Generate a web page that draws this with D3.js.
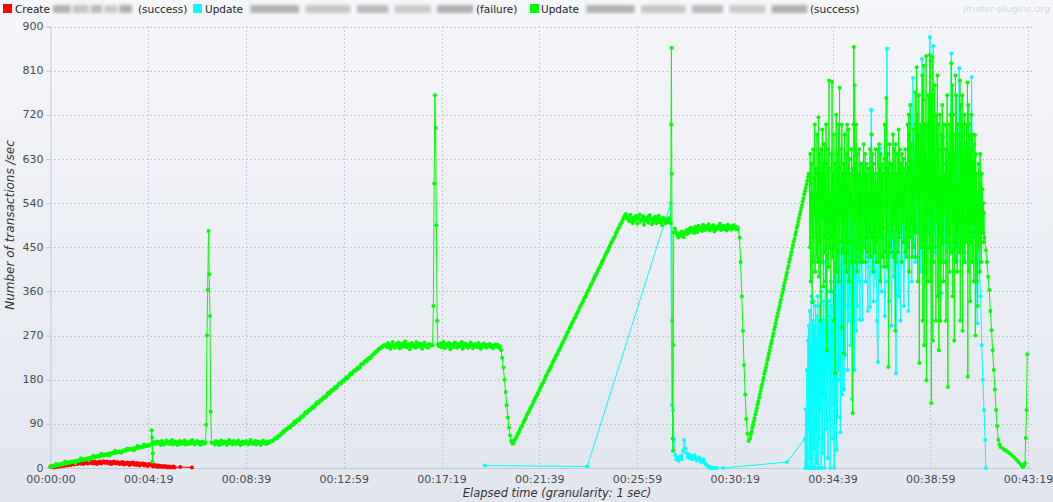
<!DOCTYPE html>
<html><head><meta charset="utf-8">
<script src="https://cdn.jsdelivr.net/npm/d3@7"></script>
<style>body{margin:0;background:#e9ecf3}svg{display:block}</style>
</head><body><svg id="c" width="1053" height="502"></svg>
<script>
// ---------- data ----------
const legendLabels = [["Create", "(success)"], ["Update", "(failure)"], ["Update", "(success)"]];
const seriesColors = ["#ff0000", "#00ffff", "#00ff00"];
const yTicks = [0, 90, 180, 270, 360, 450, 540, 630, 720, 810, 900];
const xTickTimes = [0, 259.9, 519.8, 779.7, 1039.6, 1299.5, 1559.4, 1819.3, 2079.2, 2339.1, 2599];
const xTickLabels = ["00:00:00","00:04:19","00:08:39","00:12:59","00:17:19","00:21:39","00:25:59","00:30:19","00:34:39","00:38:59","00:43:19"];

// runs: [start second, step seconds, values]
const createRuns = [
  [0, 3, [3,2,4,1,3,5,2,4,6,3,5, 7,4,6,8,5,7,9,6,8,10, 7,9,11,8,10,12,9,11,8,12, 10,13,9,11,14,10,12,9,13,11,
          8,12,10,13,9,11,14,12,10,13, 11,9,12,8,10,13,11,9,12,10, 8,11,9,12,7,10,8,11,9,6, 10,8,11,7,9,6,10,8,5,9,
          7,9,5,8,6,4,8,6,7,5, 3,6,4,5,2,5,3,4,2,3, 4,2,3,1,3,2,1,2,3,1]],
  [345, 1, [2]],
  [376, 1, [1]]
];

const failRuns = [
  [1155, 1, [5]],
  [1427, 1, [3]],
  [1649, 1, [540]],
  [1652, 3, [128,118,57,26,18,22,15,20,25,18, 35,57,40,30,22,28,20,25,18,22, 26,20,15,18,22,17,12,15,18,10, 8,5,4,2,0,1,0,0,0,0, 0]],
  [1788, 1, [0]],
  [1958, 1, [12]],
  [2006, 1, [60,0,120,10,0,200,30,0,260,80, 290,0,180,320,20,250,0,350,120,280, 0,300,150,340,40,290,200,0,330,100,
             260,10,310,180,350,0,240,300,60,280, 330,120,290,0,360,210,300,30,270,340, 150,300,0,280,420,190,330,80,300,250,
             360,20,290,200,340,100,310,0,270,380, 180,330,60,300,250,360,130,290,0,320, 420,132,380,250,37,460,300,104,350,200,
             500,350,180,400,73,300,450,240,380,150, 450,520,280,480,160,400,550,330,230,500, 600,450,380,200,520,420,300,480,350,560,
             400,250,500,330,450,140,520,380,470,300, 540,420,200,480,360,500,280,450,400,520, 330,480,420,500,380,460,302,520,440,500]],
  [2158, 3, [302,460,540,380,480,320,560,328,730, 480,340,400,560,300,216,500,652,360,520,
             470,310,380,855,500,340,560,290,520,390, 480,193,530,350,500,300,560,470,330,520,
             460,540,320,500,580,380,795,480,420,520, 560,480,620,400,834,500,450,560,380,600,
             480,878,520,420,860,500,440,560,470,520, 430,356,540,675,480,420,560,500,450,530,
             845,480,520,440,560,420,500,815,470,530, 460,540,420,500,560,440,520,480,797,500,
             470,520,430,295,480,400,350,250,180,118]],
  [2485, 2, [57, 0]]
];

const successRuns = [
  [0, 3, [2,4,3,5,4,8,5,7,6,8, 7,9,8,13,9,11,10,12,11,13, 12,14,10,15,14,16,15,20,16,18, 17,19,18,20,16,21,20,22,25,23,
          22,24,23,25,24,29,25,27,26,28, 27,29,25,30,29,31,30,35,31,33, 32,34,33,31,34,36,35,37,40,38, 37,39,38,40,36,41,40,45,41,43,
          42,44,43,48,44,46,45,47,46]],
  [268, 1, [49,77,62,13,30,52,50,53]],
  [278, 3, [51,49,54,50,53,47,55,52,48,51, 56,50,53,49,52,57,48,51,54,50, 47,53,55,49,52,50,56,48,53,51,
            49,54,50,57,52,48,51,55,50,53, 47,52,54,49,51]],
  [412, 2, [52,88,270,363,483,395,310,115,52,51]],
  [433, 3, [51,48,55,50,53,47,52,56,49,51, 54,50,47,53,57,50,52,48,55,51, 49,53,56,50,47,52,54,49,51,55,
            50,48,53,57,51,49,52,55,48,50, 54,51,47,53,56,50,52,49,54,51, 53,55]],
  [589, 3, [55,56,58,61,60,64,66,65,69,71, 75,74,78,79,81,83,82,86,89,88, 95,93,97,99,98,102,105,104,107,111,
            114,112,116,119,118,122,125,123,127,131, 134,132,136,139,138,142,145,143,147,151, 154,152,156,159,158,162,165,163,167,171,
            173,172,176,179,178,182,185,183,187,191, 193,192,196,199,198,202,205,203,207,211, 213,212,216,219,218,222,225,223,227,231,
            232,234,237,238,241,243,244,246,247,250]],
  [892, 3, [252,246,255,249,243,251,257,248,245,253, 250,256,244,249,254,247,251,258,246,250, 253,242,249,255,248,251,245,257,250,247,
            254,249,243,252,256,248,250,245,253,249, 251]],
  [1016, 2, [250,330,580,760,693,495,300,252]],
  [1033, 3, [248,254,246,251,257,244,250,253,247,255, 242,249,252,246,256,250,245,253,248,251, 257,243,250,254,247,252,245,249,256,251,
             244,248,253,250,246,255,249,243,252,247, 254,250,245,251,248,253,246,250,244,249, 252,247,251,245,248]],
  [1198, 3, [240,225,205,180,155,128,103,82,66,55,50]],
  [1230, 3, [50,56,59,63,69,73,78,83,86,92, 97,101,107,111,115,121,125,129,135,139, 144,148,153,158,163,167,172,176,181,187,
             190,196,200,205,209,215,219,223,229,232, 238,242,246,252,256,261,265,270,276,279, 285,289,294,298,304,307,313,317,321,327,
             331,336,340,346,349,355,360,363,369,374, 378,383,388,393,397,402,407,411,416,421, 425,430,435,440,444,449,454,459,463,468,
             472,478,482,487,491,497,500,505]],
  [1524, 3, [510,515,518,508,512,503,516,507,499,511, 505,514,498,509,517,502,506,513,496,508, 504,511,500,515,507,497,509,503,512,499,
             506,514,501,508,495,510,504,499,507,502, 509,500]],
  [1649, 1, [499,700,856,600,300,60,35,250,480]],
  [1660, 3, [488,481,475,470,478,473,482,476,471,479, 484,477,486,480,490,483,488,479,492,486, 481,494,487,490,483,496,489,485,493,488,
             497,484,491,487,495,482,490,486,493,489, 498,485,491,494,487,492,484,496,489,493, 486,490,495,488,492,487,490]],
  [1832, 3, [470,420,350,280,210,150,100,70,55]],
  [1860, 2, [60,68,74,82,88,95,101,109,115,122, 130,136,143,150,157,164,170,178,184,192, 198,205,212,220,226,233,240,247,254,260,
             268,274,282,288,295,302,309,316,323,329, 337,343,351,357,364,371,378,385,392,398, 406,412,420,426,433,440,447,454,461,467,
             475,481,489,495,502,509,516,523,530,536, 544,550,558,564,571,578,585,593,600]],
  [2018, 1, [600,450,640,380,580,500,620,338,560,470,650,420,590,520,700,400,610,480,560,430,
             680,420,600,500,715,390,640,460,580,300,650,480,600,420,690,510,560,370,620,470,
             660,440,600,380,700,520,240,620,480,650,410,580,790,450,610,500,560,360,640,470,
             787,430,600,520,300,680,450,620,193,560,480,720,400,640,520,590,440,700,380,610,
             775,460,580,520,650,287,700,440,600,500,620,234,560,680,420,600,480,640,400,570,
             700,440,580,520,690,380,630,460,600,520,560,420,650,480,610,112,580,700,858,500,
             780,420,620,450,700,520,400,640,560,480,600,430,650,500,560,420,620,470,590,440,
             540,620,420,580,660,450,600,500,640,420,590,470,620,440,600,500,560,430,610,480,
             560,650,430,610,520,680,470,590,640,400,620,480,570,440,600,510,650,420,580,460,
             600,500,650,420,580,660,480,610,380,640,470,590,520,620,430,600,490,560,410,630,
             700,520,610,440,754,410,600,480,640,430,206,620,540,660,450,590,500,620,440,600,
             620,470,680,560,430,650,500,600,280,660,420,590,480,640,510,600,440,690,470,580,
             650,480,620,540,600,420,640,500,580,630,460,610,520,590,440,650,490,600,430,620,
             560,700,450,620,720,400,680,520,740,470,620,500,660,430,600,540,690,450,620,480,
             640,766,430,700,560,817,480,720,380,680,520,760,214,640,500,700,450,620,560,690,
             800,300,750,450,820,250,700,400,640,540,840,179,700,480,620,380,760,520,600,450,
             842,380,830,500,132,760,500,838,260,720,420,680,540,780,450,640,300,720,500,620,
             800,350,700,520,240,650,480,720,300,600,500,680,420,740,460,620,380,700,520,600,
             580,420,650,300,700,460,760,520,165,640,480,700,400,620,540,720,440,825,500,640,
             780,350,720,500,680,260,640,460,800,420,760,480,620,400,700,520,580,440,680,500,
             790,300,740,450,680,520,760,280,700,440,620,500,720,420,660,540,600,460,700,480,
             786,186,740,400,700,520,680,340,650,460,720,500,600,420,680,480,620,380,660,500,
             679,270,640,420,600,380,560,330,540,450,620,480,580,400,640,460,560,420,600,480,
             568,480,540,460,520,470]],
  [2487, 3, [444,420,390,363,320,281,240,200,160,118,85,57,48]],
  [2526, 6, [43,40,36,33,30,26,22,17,12,7]],
  [2583, 2, [4,2,3,6,10,61,118,232]]
];

// ---------- helpers ----------
function expand(runs) {
  const out = [];
  runs.forEach(([t0, step, vals]) => vals.forEach((v, i) => out.push([t0 + i * step, v])));
  return out;
}
const series = [expand(createRuns), expand(failRuns), expand(successRuns)];

// ---------- drawing ----------
const svg = d3.select("#c");
const W = 1053, H = 502;
const x = d3.scaleLinear().domain([0, 2599]).range([50.5, 1028]);
const y = d3.scaleLinear().domain([0, 900]).range([468, 26.5]);
const plotRight = 1033;

const defs = svg.append("defs");
const bg = defs.append("linearGradient").attr("id", "bg").attr("x1", 0).attr("y1", 0).attr("x2", 0).attr("y2", 1);
bg.append("stop").attr("offset", "0%").attr("stop-color", "#f5f6f9");
bg.append("stop").attr("offset", "100%").attr("stop-color", "#e2e6ef");
defs.append("filter").attr("id", "blur").attr("x", "-20%").attr("y", "-80%").attr("width", "140%").attr("height", "260%")
  .append("feGaussianBlur").attr("stdDeviation", 1.6);

svg.append("rect").attr("width", W).attr("height", H).attr("fill", "url(#bg)");

const fontFam = "'DejaVu Sans', 'Liberation Sans', sans-serif";

// grid
const grid = svg.append("g").attr("stroke", "#b9bdc6").attr("stroke-width", 1).attr("stroke-dasharray", "1.5,2.5");
yTicks.filter(d => d > 0).forEach(d => {
  grid.append("line").attr("x1", x(0)).attr("x2", plotRight).attr("y1", Math.round(y(d)) + 0.5).attr("y2", Math.round(y(d)) + 0.5);
});
xTickTimes.filter(d => d > 0).forEach(d => {
  grid.append("line").attr("y1", y(900)).attr("y2", y(0)).attr("x1", Math.round(x(d)) + 0.5).attr("x2", Math.round(x(d)) + 0.5);
});

// axes
const yAxis = svg.append("g").attr("transform", `translate(${x(0)},0)`)
  .call(d3.axisLeft(y).tickValues(yTicks).tickSize(4).tickPadding(3).tickFormat(d3.format("d")));
const xAxis = svg.append("g").attr("transform", `translate(0,${y(0)})`)
  .call(d3.axisBottom(x).tickValues(xTickTimes).tickSize(0).tickPadding(7).tickFormat((d, i) => xTickLabels[i]));
[yAxis, xAxis].forEach(g => {
  g.selectAll("path.domain").attr("stroke", "#c3c8d2");
  g.selectAll(".tick line").attr("stroke", "#c3c8d2");
  g.selectAll("text").attr("fill", "#4a4a4a").style("font-family", fontFam).style("font-size", "11px");
});
yAxis.selectAll(".tick text").attr("dy", "0.28em");
xAxis.select("path.domain").attr("d", `M${x(0)},0.5H${plotRight}`);

// axis titles
svg.append("text").attr("x", 557).attr("y", 497).attr("text-anchor", "middle")
  .style("font-family", fontFam).style("font-size", "11.5px").style("font-style", "italic").attr("fill", "#333")
  .text("Elapsed time (granularity: 1 sec)");
svg.append("text").attr("transform", "translate(14,225) rotate(-90)").attr("text-anchor", "middle")
  .style("font-family", fontFam).style("font-size", "12px").style("font-style", "italic").attr("fill", "#333")
  .text("Number of transactions /sec");

// series
const line = d3.line().x(d => x(d[0])).y(d => y(d[1]));
const plot = svg.append("g");
series.forEach((data, i) => {
  const g = plot.append("g");
  g.append("path").attr("d", line(data)).attr("fill", "none").attr("stroke", seriesColors[i]).attr("stroke-width", 1);
  g.selectAll("circle").data(data).join("circle")
    .attr("cx", d => x(d[0])).attr("cy", d => y(d[1])).attr("r", 2).attr("fill", seriesColors[i]);
});

// legend
const legendPos = [
  {sq: 3, name: 15, blur: [53, 132], status: 138},
  {sq: 193, name: 205, blur: [250, 473], status: 476},
  {sq: 530, name: 541, blur: [586, 807], status: 810}
];
const blurWords = [[0, 0.22, "#b4b4b4"], [0.25, 0.2, "#c6c6c6"], [0.48, 0.14, "#bcbcbc"], [0.65, 0.16, "#cacaca"], [0.84, 0.16, "#b0b0b0"]];
const lg = svg.append("g").style("font-family", fontFam).style("font-size", "10.5px").attr("fill", "#222");
legendLabels.forEach((lab, i) => {
  const p = legendPos[i];
  lg.append("rect").attr("x", p.sq).attr("y", 4).attr("width", 9).attr("height", 9).attr("fill", seriesColors[i]);
  lg.append("text").attr("x", p.name).attr("y", 13).text(lab[0]);
  const bw = p.blur[1] - p.blur[0];
  const bgp = lg.append("g").attr("filter", "url(#blur)");
  blurWords.forEach(([o, w, c]) => {
    bgp.append("rect").attr("x", p.blur[0] + o * bw).attr("y", 5).attr("width", w * bw).attr("height", 8).attr("fill", c);
  });
  lg.append("text").attr("x", p.status).attr("y", 13).text(lab[1]);
});
svg.append("text").attr("x", 1050).attr("y", 12).attr("text-anchor", "end").style("font-family", fontFam).style("font-size", "9.5px")
  .attr("fill", "#d3d7df").text("jmeter-plugins.org");
</script>
</body></html>
